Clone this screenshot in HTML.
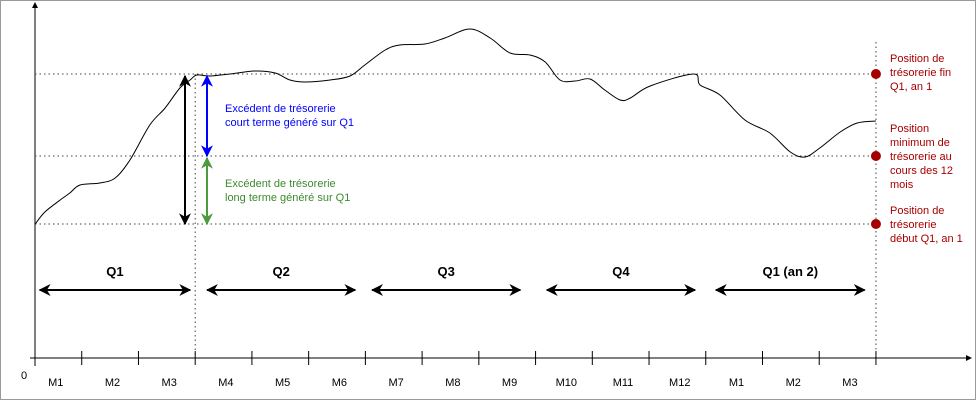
<!DOCTYPE html>
<html><head><meta charset="utf-8"><style>
body{margin:0;background:#fff;}
svg{display:block;font-family:"Liberation Sans",sans-serif;}
</style></head><body>
<svg id="chart" width="976" height="400" viewBox="0 0 976 400">
<defs>
<marker id="ak" viewBox="0 0 10 10" refX="9" refY="5" markerWidth="6" markerHeight="6" orient="auto-start-reverse"><path d="M0,0 L10,5 L0,10 L3,5z" fill="#000"/></marker>
<marker id="ab" viewBox="0 0 10 10" refX="9" refY="5" markerWidth="6" markerHeight="6" orient="auto-start-reverse"><path d="M0,0 L10,5 L0,10 L3,5z" fill="#0000ff"/></marker>
<marker id="ag" viewBox="0 0 10 10" refX="9" refY="5" markerWidth="6" markerHeight="6" orient="auto-start-reverse"><path d="M0,0 L10,5 L0,10 L3,5z" fill="#4c9a3c"/></marker>
</defs>
<rect x="0.5" y="0.5" width="975" height="399" fill="#fff" stroke="#999"/>
<g id="g"></g>
</svg>
<script>
const monthLabels=["M1","M2","M3","M4","M5","M6","M7","M8","M9","M10","M11","M12","M1","M2","M3"];
const curveMonths=[0.18,0.35,0.62,0.79,0.97,1.32,1.59,1.85,2.2,2.47,2.73,2.91,3.03,3.26,3.61,4.05,4.41,4.67,4.94,5.38,5.73,5.99,6.35,6.61,7.05,7.4,7.84,8.2,8.55,8.9,9.17,9.43,9.7,9.96,10.22,10.49,10.67,11.02,11.78,11.9,12.25,12.69,13.13,13.49,13.75,14.01,14.37,14.67,15.0];
const curveValues=[134,146,158,165,173,175,180,198,233,250,270,278,283,282,284,287,285,278,276,278,282,293,308,313,314,320,329,320,305,303,296,278,277,279,268,258,260,272,284,273,263,238,225,206,201,210,226,235,237];
const levelValues=[284,202,134];
const quarterLabels=["Q1","Q2","Q3","Q4","Q1 (an 2)"];
const quarterStart=[0.26,3.21,6.12,9.2,12.18];
const quarterEnd=[2.91,5.82,8.73,11.81,14.8];
const x=m=>25+56.73*m, y=v=>358-v;
const NS="http://www.w3.org/2000/svg", g=document.getElementById('g');
function mk(t,a,txt){const e=document.createElementNS(NS,t);for(const k in a)e.setAttribute(k,a[k]);if(txt!=null)e.textContent=txt;g.appendChild(e);return e;}
levelValues.forEach((v,i)=>{const e=mk('line',{x1:35,x2:876,y1:y(v),y2:y(v),stroke:'#444','stroke-dasharray':'1.5,3','stroke-width':1});

});
let e=mk('line',{x1:x(3),x2:x(3),y1:y(levelValues[0]),y2:358,stroke:'#444','stroke-dasharray':'1.5,3'});


e=mk('line',{x1:x(15),x2:x(15),y1:42,y2:358,stroke:'#444','stroke-dasharray':'1.5,3'});


e=mk('line',{x1:35,y1:366,x2:35,y2:6,stroke:'#555','stroke-width':1.5});


mk('path',{d:'M32,8 L35,2 L38,8z',fill:'#000'});
e=mk('line',{x1:30,y1:358,x2:968,y2:358,stroke:'#000','stroke-width':1});


mk('path',{d:'M966,355 L972,358 L966,361z',fill:'#000'});
e=mk('text',{x:21,y:379,'font-size':11,fill:'#000'},'0');


monthLabels.forEach((l,i)=>{const m=i+1;
const t=mk('line',{x1:x(m),x2:x(m),y1:351,y2:365,stroke:'#000'});


const tx=mk('text',{x:x(m)-26,y:386,'font-size':11,'text-anchor':'middle',fill:'#000'},l);

});
const pts=curveMonths.map((m,i)=>[x(m),y(curveValues[i])]);
let d='M'+pts[0].join(',');
for(let i=0;i<pts.length-1;i++){const p0=pts[Math.max(0,i-1)],p1=pts[i],p2=pts[i+1],p3=pts[Math.min(pts.length-1,i+2)];
d+=` C${p1[0]+(p2[0]-p0[0])/6},${p1[1]+(p2[1]-p0[1])/6} ${p2[0]-(p3[0]-p1[0])/6},${p2[1]-(p3[1]-p1[1])/6} ${p2[0]},${p2[1]}`;}
e=mk('path',{d:d,fill:'none',stroke:'#000','stroke-width':1});


e=mk('line',{x1:185,x2:185,y1:y(levelValues[0])+2,y2:y(levelValues[2]),stroke:'#000','stroke-width':2,'marker-start':'url(#ak)','marker-end':'url(#ak)'});


e=mk('line',{x1:207,x2:207,y1:y(levelValues[0])+2,y2:y(levelValues[1]),stroke:'#0000ff','stroke-width':2,'marker-start':'url(#ab)','marker-end':'url(#ab)'});


e=mk('line',{x1:207,x2:207,y1:y(levelValues[1])+2,y2:y(levelValues[2]),stroke:'#4c9a3c','stroke-width':2,'marker-start':'url(#ag)','marker-end':'url(#ag)'});


[["Excédent de trésorerie",112,'#0000ff'],["court terme généré sur Q1",126,'#0000ff'],["Excédent de trésorerie",187,'#3d8a2e'],["long terme généré sur Q1",201,'#3d8a2e']].forEach(r=>{
const t=mk('text',{x:225,y:r[1],'font-size':11,fill:r[2]},r[0]);

});
quarterLabels.forEach((q,i)=>{
const a=mk('line',{x1:x(quarterStart[i]),x2:x(quarterEnd[i]),y1:290,y2:290,stroke:'#000','stroke-width':2,'marker-start':'url(#ak)','marker-end':'url(#ak)'});


const t=mk('text',{x:(x(quarterStart[i])+x(quarterEnd[i]))/2,y:276,'font-size':13,'font-weight':'bold','text-anchor':'middle'},q);

});
const notes=[["Position de","trésorerie fin","Q1, an 1"],["Position","minimum de","trésorerie au","cours des 12","mois"],["Position de","trésorerie","début Q1, an 1"]];
const noteY=[62,132,214];
levelValues.forEach((v,i)=>{
const c=mk('circle',{cx:x(15),cy:y(v),r:5,fill:'#a50000'});


notes[i].forEach((l,j)=>{const t=mk('text',{x:890,y:noteY[i]+j*14,'font-size':11,fill:'#a50000'},l);

});});
</script>
</body></html>
